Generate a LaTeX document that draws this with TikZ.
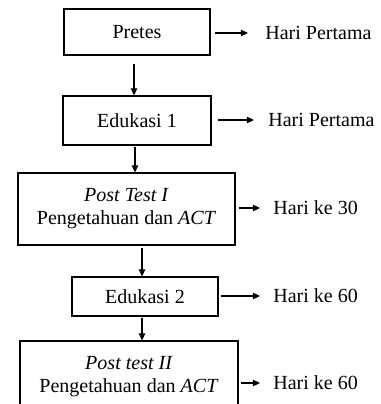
\documentclass[tikz,border=0pt]{standalone}
\usepackage{fontspec}
\setmainfont{Liberation Serif}
\usetikzlibrary{arrows.meta,calc}
\begin{document}
\begin{tikzpicture}[x=0.02cm, y=-0.02cm,
    kotak/.style={draw, line width=0.6pt, align=center, inner sep=0pt,
      font=\fontsize{11.4}{13}\selectfont},
    ket/.style={anchor=west, inner sep=0pt, font=\fontsize{11.4}{13}\selectfont},
    panah/.style={-{Triangle[length=4pt, width=3.6pt]}, line width=0.6pt}]
    \useasboundingbox (0,0) rectangle (380,404);

    % kotak tahapan
    \node[kotak, minimum width=2.92cm, minimum height=0.92cm] (pretes) at (137,32) {Pretes};
    \node[kotak, minimum width=2.96cm, minimum height=0.98cm] (edukasi1) at (137,120.5) {Edukasi 1};
    \node[kotak, minimum width=4.34cm, minimum height=1.44cm] (post1) at (126.5,209)
        {\textit{Post Test I}\\Pengetahuan dan \textit{ACT}};
    \node[kotak, minimum width=2.92cm, minimum height=0.78cm] (edukasi2) at (145,296.5) {Edukasi 2};
    \node[kotak, minimum width=4.36cm, minimum height=1.44cm] (post2) at (129,377)
        {\textit{Post test II}\\Pengetahuan dan \textit{ACT}};

    % keterangan waktu
    \node[ket] (hari1) at (265,33) {Hari Pertama};
    \node[ket] (hari2) at (268,120) {Hari Pertama};
    \node[ket] (hari3) at (273,208) {Hari ke 30};
    \node[ket] (hari4) at (273,296) {Hari ke 60};
    \node[ket] (hari5) at (273,383) {Hari ke 60};

    % panah ke bawah
    \coordinate (a1) at ($(pretes.south)+(-3,8)$);
    \draw[panah] (a1) -- (a1 |- edukasi1.north);
    \coordinate (a2) at ($(edukasi1.south)+(-2,1)$);
    \draw[panah] (a2) -- (a2 |- post1.north);
    \coordinate (a3) at ($(post1.south)+(15.5,2)$);
    \draw[panah] (a3) -- (a3 |- edukasi2.north);
    \coordinate (a4) at ($(edukasi2.south)+(-3,1)$);
    \draw[panah] (a4) -- (a4 |- post2.north);

    % panah ke kanan
    \coordinate (b1) at ($(pretes.east |- hari1.west)+(4,0)$);
    \draw[panah, shorten >=0.34cm] (b1) -- (hari1.west);
    \coordinate (b2) at ($(edukasi1.east |- hari2.west)+(6,0)$);
    \draw[panah, shorten >=0.28cm] (b2) -- (hari2.west);
    \coordinate (b3) at ($(post1.east |- hari3.west)+(3,0)$);
    \draw[panah, shorten >=0.26cm] (b3) -- (hari3.west);
    \coordinate (b4) at ($(edukasi2.east |- hari4.west)+(2,0)$);
    \draw[panah, shorten >=0.26cm] (b4) -- (hari4.west);
    \coordinate (b5) at ($(post2.east |- hari5.west)+(2,0)$);
    \draw[panah, shorten >=0.26cm] (b5) -- (hari5.west);
\end{tikzpicture}
\end{document}
